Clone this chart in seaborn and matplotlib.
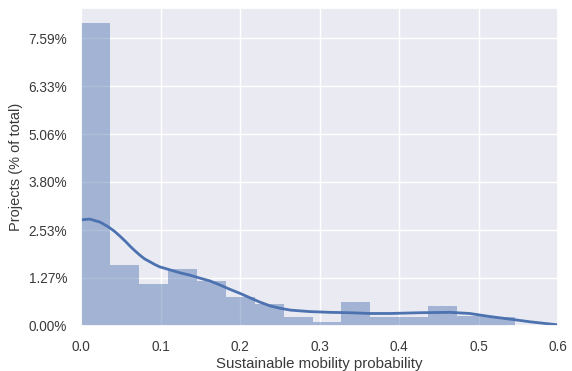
import matplotlib
matplotlib.use("Agg")
import matplotlib.pyplot as plt
import seaborn as sns
import numpy as np

# Histogram bins (sustainable mobility probability) and heights (% of total)
bin_edges = [0.0, 0.0364, 0.0728, 0.1092, 0.1456, 0.182, 0.2184, 0.2548,
             0.2912, 0.3276, 0.364, 0.4004, 0.4368, 0.4732, 0.5096, 0.546]
bin_heights = [8.00, 1.61, 1.10, 1.50, 1.19, 0.76, 0.57, 0.25,
               0.11, 0.64, 0.25, 0.25, 0.54, 0.27, 0.25]

# KDE curve
kde_x = [0.0, 0.011, 0.024, 0.034, 0.042, 0.049, 0.056, 0.062, 0.068, 0.074,
         0.080, 0.087, 0.093, 0.099, 0.112, 0.125, 0.137, 0.150, 0.162, 0.175,
         0.187, 0.200, 0.213, 0.225, 0.238, 0.250, 0.263, 0.275, 0.288, 0.313,
         0.338, 0.364, 0.389, 0.426, 0.464, 0.489, 0.514, 0.540, 0.565, 0.600]
kde_y = [2.80, 2.82, 2.74, 2.62, 2.50, 2.37, 2.23, 2.10, 1.98, 1.87,
         1.77, 1.69, 1.62, 1.56, 1.48, 1.40, 1.34, 1.26, 1.19, 1.08,
         0.97, 0.86, 0.74, 0.63, 0.53, 0.47, 0.42, 0.40, 0.38, 0.36,
         0.35, 0.33, 0.33, 0.35, 0.36, 0.33, 0.25, 0.18, 0.11, 0.03]

ytick_labels = ["0.00%", "1.27%", "2.53%", "3.80%", "5.06%", "6.33%", "7.59%"]
xtick_labels = ["0.0", "0.1", "0.2", "0.3", "0.4", "0.5", "0.6"]

sns.set_theme(style="darkgrid")
plt.rcParams["font.family"] = ["Liberation Sans", "DejaVu Sans"]

fig = plt.figure(figsize=(5.72, 3.71), dpi=100)
ax = fig.add_axes([0.1416, 0.1213, 0.834, 0.857])

centers = [(bin_edges[i] + bin_edges[i + 1]) / 2 for i in range(len(bin_heights))]
sns.histplot(x=centers, weights=bin_heights, bins=bin_edges, stat="count",
             color="#4c72b0", alpha=0.45, linewidth=0, ax=ax)
sns.lineplot(x=kde_x, y=kde_y, color="#4c72b0", linewidth=2, ax=ax)

ax.set_xlim(0, 0.6)
ax.set_ylim(0, 8.386)
ax.set_xticks([float(t) for t in xtick_labels])
ax.set_xticklabels(xtick_labels)
ax.set_yticks([float(t.rstrip("%")) for t in ytick_labels])
ax.set_yticklabels(ytick_labels)
ax.tick_params(labelsize=9.8, colors="#3a3a3a", pad=4)
ax.set_xlabel("Sustainable mobility probability", fontsize=10.8, color="#3a3a3a", labelpad=2)
ax.set_ylabel("Projects (% of total)", fontsize=10.5, color="#3a3a3a", labelpad=4)

fig.savefig("out.png", dpi=100)
